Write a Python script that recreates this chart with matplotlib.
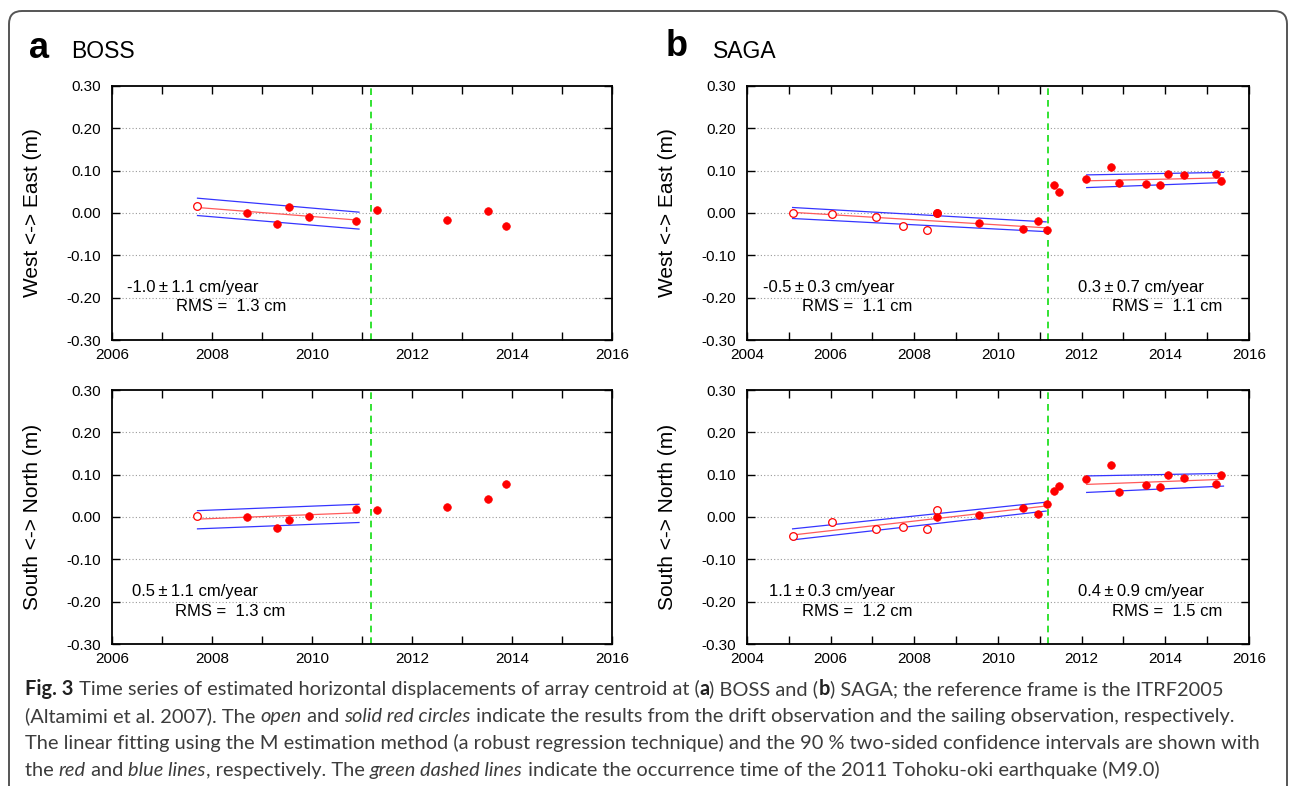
import matplotlib
matplotlib.use("Agg")
import matplotlib.pyplot as plt
from matplotlib.patches import FancyBboxPatch
from matplotlib.ticker import MultipleLocator, FormatStrFormatter

plt.rcParams['font.family'] = ['Liberation Sans', 'DejaVu Sans']

W, H = 1290, 786
QUAKE = 2011.19   # 2011 Tohoku-oki

# ---- BOSS (panel a) ----
boss_drift_t = [2007.71]
boss_drift_e = [0.017]
boss_drift_n = [0.002]
boss_sail_t = [2008.70, 2009.31, 2009.54, 2009.94, 2010.89, 2011.30, 2012.70, 2013.52, 2013.88]
boss_sail_e = [0.000, -0.026, 0.014, -0.009, -0.020, 0.007, -0.017, 0.004, -0.030]
boss_sail_n = [0.000, -0.026, -0.008, 0.003, 0.020, 0.017, 0.023, 0.043, 0.077]

boss_fit_t = [2007.71, 2010.94]
boss_fit_e = [0.013, -0.017]
boss_up_e = [0.035, 0.002]
boss_lo_e = [-0.006, -0.038]
boss_fit_n = [-0.005, 0.010]
boss_up_n = [0.015, 0.030]
boss_lo_n = [-0.028, -0.013]

# ---- SAGA (panel b) ----
saga_drift_t = [2005.09, 2006.04, 2007.09, 2007.73, 2008.30, 2008.53]
saga_drift_e = [0.001, -0.002, -0.010, -0.030, -0.039, 0.001]
saga_drift_n = [-0.046, -0.012, -0.028, -0.024, -0.028, 0.017]
saga_sail_t = [2008.53, 2009.54, 2010.59, 2010.95, 2011.17, 2011.34, 2011.46, 2012.10,
               2012.71, 2012.89, 2013.53, 2013.87, 2014.07, 2014.45, 2015.20, 2015.32]
saga_sail_e = [0.001, -0.023, -0.037, -0.018, -0.039, 0.065, 0.050, 0.080,
               0.108, 0.072, 0.069, 0.066, 0.091, 0.089, 0.091, 0.076]
saga_sail_n = [0.001, 0.005, 0.021, 0.008, 0.031, 0.061, 0.074, 0.089,
               0.122, 0.059, 0.076, 0.072, 0.100, 0.091, 0.078, 0.100]

saga_fit1_t = [2005.09, 2011.15]
saga_fit1_e = [0.0016, -0.035]
saga_up1_e = [0.013, -0.021]
saga_lo1_e = [-0.013, -0.044]
saga_fit1_n = [-0.0425, 0.026]
saga_up1_n = [-0.028, 0.035]
saga_lo1_n = [-0.054, 0.014]

saga_fit2_t = [2012.12, 2015.39]
saga_fit2_e = [0.076, 0.083]
saga_up2_e = [0.090, 0.096]
saga_lo2_e = [0.060, 0.072]
saga_fit2_n = [0.077, 0.089]
saga_up2_n = [0.097, 0.103]
saga_lo2_n = [0.058, 0.073]

fig = plt.figure(figsize=(W / 100, H / 100), dpi=100)

# background axes in pixel units for frame, panel letters and caption
bg = fig.add_axes([0, 0, 1, 1], zorder=-1)
bg.set_xlim(0, W)
bg.set_ylim(H, 0)
bg.axis('off')
bg.add_patch(FancyBboxPatch((9, 11), 1278, 820, boxstyle="round,pad=0,rounding_size=13",
                            fc='white', ec='#555555', lw=1.4))


def make_ax(left, bottom, width, xmin, xmax, ylabel):
    ax = fig.add_axes([left / W, 1 - bottom / H, width / W, 254 / H])
    ax.set_xlim(xmin, xmax)
    ax.set_ylim(-0.30, 0.30)
    ax.xaxis.set_major_locator(MultipleLocator(2))
    ax.xaxis.set_minor_locator(MultipleLocator(1))
    ax.yaxis.set_major_locator(MultipleLocator(0.1))
    ax.yaxis.set_major_formatter(FormatStrFormatter('%.2f'))
    ax.tick_params(which='both', direction='in', top=True, right=True,
                   length=6, width=1.0, labelsize=11)
    ax.tick_params(axis='x', pad=6)
    ax.tick_params(axis='y', pad=8)
    for s in ax.spines.values():
        s.set_linewidth(1.3)
    for yv in [-0.2, -0.1, 0.0, 0.1, 0.2]:
        ax.axhline(yv, color='#9a9a9a', lw=0.8, ls=(0, (1, 2)), zorder=0)
    ax.axvline(QUAKE, color='#11dd11', lw=1.2, ls=(0, (4, 3)), zorder=1)
    ax.set_ylabel(ylabel, fontsize=15)
    ax.yaxis.set_label_coords(-0.14, 0.5)
    return ax


def fit_lines(ax, t, mid, up, lo):
    ax.plot(t, up, color='#3535ff', lw=0.9, zorder=2)
    ax.plot(t, lo, color='#3535ff', lw=0.9, zorder=2)
    ax.plot(t, mid, color='#ff5a5a', lw=0.9, zorder=2)


def points(ax, dt, dv, st, sv):
    ax.plot(dt, dv, 'o', ms=5.5, mfc='white', mec='red', mew=0.9, zorder=3)
    ax.plot(st, sv, 'o', ms=5.5, mfc='red', mec='red', mew=0.5, zorder=4)


pm = '\u2009\u00b1\u2009'
ax1 = make_ax(112, 340, 500, 2006, 2016, 'West <-> East (m)')
fit_lines(ax1, boss_fit_t, boss_fit_e, boss_up_e, boss_lo_e)
points(ax1, boss_drift_t, boss_drift_e, boss_sail_t, boss_sail_e)
ax1.text(2006.30, -0.177, '-1.0' + pm + '1.1 cm/year', fontsize=12, va='center')
ax1.text(2007.28, -0.222, 'RMS =  1.3 cm', fontsize=12, va='center')

ax2 = make_ax(747, 340, 502, 2004, 2016, 'West <-> East (m)')
fit_lines(ax2, saga_fit1_t, saga_fit1_e, saga_up1_e, saga_lo1_e)
fit_lines(ax2, saga_fit2_t, saga_fit2_e, saga_up2_e, saga_lo2_e)
points(ax2, saga_drift_t, saga_drift_e, saga_sail_t, saga_sail_e)
ax2.text(2004.38, -0.177, '-0.5' + pm + '0.3 cm/year', fontsize=12, va='center')
ax2.text(2005.32, -0.222, 'RMS =  1.1 cm', fontsize=12, va='center')
ax2.text(2011.92, -0.177, '0.3' + pm + '0.7 cm/year', fontsize=12, va='center')
ax2.text(2012.73, -0.222, 'RMS =  1.1 cm', fontsize=12, va='center')

ax3 = make_ax(112, 644, 500, 2006, 2016, 'South <-> North (m)')
fit_lines(ax3, boss_fit_t, boss_fit_n, boss_up_n, boss_lo_n)
points(ax3, boss_drift_t, boss_drift_n, boss_sail_t, boss_sail_n)
ax3.text(2006.40, -0.177, '0.5' + pm + '1.1 cm/year', fontsize=12, va='center')
ax3.text(2007.26, -0.224, 'RMS =  1.3 cm', fontsize=12, va='center')

ax4 = make_ax(747, 644, 502, 2004, 2016, 'South <-> North (m)')
fit_lines(ax4, saga_fit1_t, saga_fit1_n, saga_up1_n, saga_lo1_n)
fit_lines(ax4, saga_fit2_t, saga_fit2_n, saga_up2_n, saga_lo2_n)
points(ax4, saga_drift_t, saga_drift_n, saga_sail_t, saga_sail_n)
ax4.text(2004.53, -0.177, '1.1' + pm + '0.3 cm/year', fontsize=12, va='center')
ax4.text(2005.32, -0.224, 'RMS =  1.2 cm', fontsize=12, va='center')
ax4.text(2011.92, -0.177, '0.4' + pm + '0.9 cm/year', fontsize=12, va='center')
ax4.text(2012.73, -0.224, 'RMS =  1.5 cm', fontsize=12, va='center')

# panel letters
bg.text(29, 49, 'a', fontsize=26, fontweight='bold', va='center')
bg.text(71, 51, 'BOSS', fontsize=16.5, va='center')
bg.text(666, 47, 'b', fontsize=26, fontweight='bold', va='center')
bg.text(713, 51, 'SAGA', fontsize=16.5, va='center')

# caption, drawn run by run so bold / italic words line up
N, B, I = 'normal', 'bold', 'italic'
caption = [
    [('Fig. 3', B), (' Time series of estimated horizontal displacements of array centroid at (', N),
     ('a', B), (') BOSS and (', N), ('b', B), (') SAGA; the reference frame is the ITRF2005', N)],
    [('(Altamimi et al. 2007). The ', N), ('open', I), (' and ', N), ('solid red circles', I),
     (' indicate the results from the drift observation and the sailing observation, respectively.', N)],
    [('The linear fitting using the M estimation method (a robust regression technique) '
      'and the 90 % two-sided confidence intervals are shown with', N)],
    [('the ', N), ('red', I), (' and ', N), ('blue lines', I), (', respectively. The ', N),
     ('green dashed lines', I), (' indicate the occurrence time of the 2011 Tohoku-oki earthquake (M9.0)', N)],
]
cap_font = ['Lato', 'DejaVu Sans']
renderer = fig.canvas.get_renderer()


def width_of(s, size, style):
    # advance width: pad with a bar on both sides and take the bars off again
    kw = dict(fontsize=size, family=cap_font,
              fontweight='bold' if style == B else 'normal',
              fontstyle='italic' if style == I else 'normal')
    t = bg.text(0, 0, '|' + s + '|', **kw)
    w = t.get_window_extent(renderer).width
    t.remove()
    t = bg.text(0, 0, '||', **kw)
    w -= t.get_window_extent(renderer).width
    t.remove()
    return w


def draw_line(y, runs, size, draw=True):
    x = 25
    for s, style in runs:
        if draw:
            bg.text(x, y, s, fontsize=size, family=cap_font, va='baseline',
                    color='#222222' if style == B else '#3c3c3c',
                    fontweight='bold' if style == B else 'normal',
                    fontstyle='italic' if style == I else 'normal')
        x += width_of(s, size, style)
    return x


base = 12.0
w0 = draw_line(0, caption[0], base, draw=False) - 25
cap_size = base * 1195 / w0
for k, runs in enumerate(caption):
    draw_line(695 + 27 * k, runs, cap_size)

fig.savefig('out.png', dpi=100)
